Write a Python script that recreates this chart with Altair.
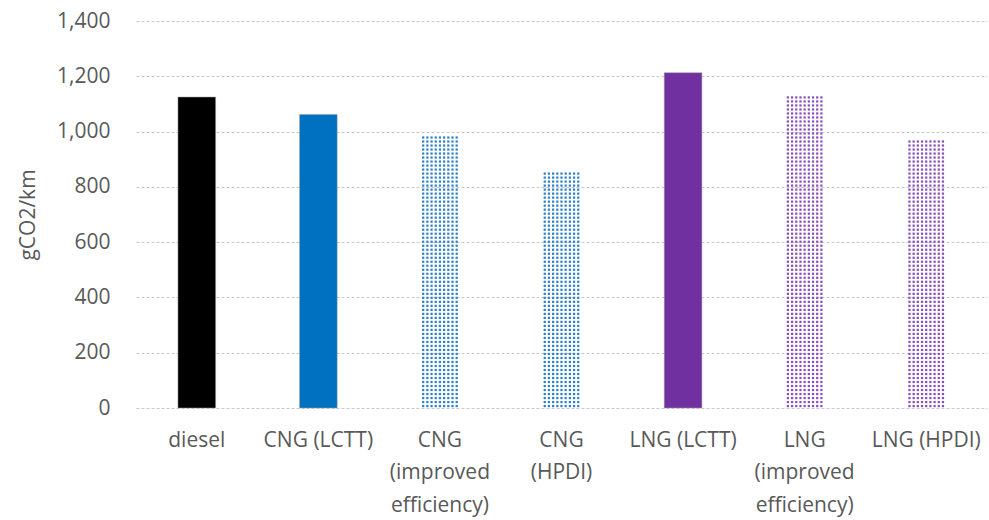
import altair as alt
import pandas as pd

categories = ["diesel", "CNG (LCTT)", "CNG|(improved|efficiency)", "CNG|(HPDI)",
              "LNG (LCTT)", "LNG|(improved|efficiency)", "LNG (HPDI)"]
values = [1125, 1062, 985, 858, 1213, 1125, 978]
colors = ["#000000", "#0070C0", "#2E80CC", "#2E80CC", "#7030A0", "#8A4FBF", "#8A4FBF"]
dotted = [False, False, True, True, False, True, True]

df = pd.DataFrame({"cat": categories, "value": values, "color": colors, "dotted": dotted})

FONT = "Open Sans"
GREY = "#595959"
N_COLS = 9

x_scale = alt.Scale(paddingInner=0.69, paddingOuter=0.345)

x_enc = alt.X("cat:N", sort=categories, title=None, scale=x_scale,
              axis=alt.Axis(labelExpr="split(datum.label, '|')", labelAngle=0,
                            labelFont=FONT, labelFontSize=21, labelColor=GREY,
                            labelLineHeight=32.5, labelPadding=21, ticks=False,
                            domain=False, grid=False, labelBaseline="top"))
y_enc = alt.Y("value:Q", title="gCO2/km",
              scale=alt.Scale(domain=[0, 1400], nice=False),
              axis=alt.Axis(values=list(range(0, 1401, 200)), format=",.0f",
                            labelFont=FONT, labelFontSize=21, labelColor=GREY,
                            labelPadding=26, ticks=False, domain=False,
                            gridColor="#c8c8c8", gridDash=[3, 2], gridWidth=1,
                            titleFont=FONT, titleFontSize=21, titleColor=GREY,
                            titleFontWeight="normal", titleX=-108, titleY=193.5,
                            titleBaseline="middle", titleAngle=270))

base = alt.Chart(df)

solid = base.transform_filter("!datum.dotted").mark_bar(
    stroke="#a0a0a0", strokeWidth=0.5
).encode(x=x_enc, y=y_enc, color=alt.Color("color:N", scale=None))

layers = [solid]
dot_base = base.transform_filter("datum.dotted").transform_calculate(
    ys="sequence(7, datum.value, 14.5)"
).transform_flatten(["ys"])
for c in range(N_COLS):
    layers.append(
        dot_base.mark_square(size=5, opacity=1).encode(
            x=alt.X("cat:N", sort=categories, scale=x_scale,
                    bandPosition=(c + 0.5) / N_COLS),
            y=alt.Y("ys:Q"),
            color=alt.Color("color:N", scale=None),
        )
    )

chart = alt.layer(*layers).properties(
    width=851, height=387,
    autosize=alt.AutoSizeParams(type="none"),
    padding={"left": 136, "top": 21, "right": 2, "bottom": 112},
    background="white",
).configure_view(stroke=None)

chart.save("out.html", embed_options={"renderer": "svg", "actions": False})
